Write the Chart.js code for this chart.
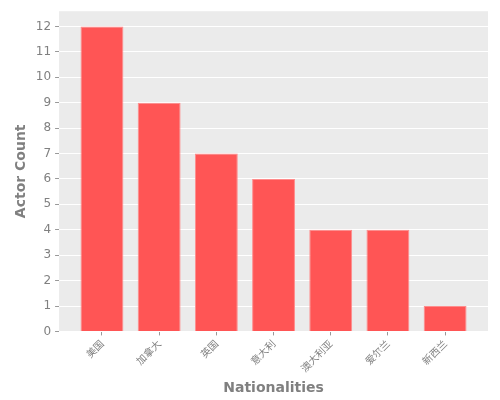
<!DOCTYPE html>
<html><head><meta charset="utf-8">
<script src="https://cdn.jsdelivr.net/npm/chart.js@4/dist/chart.umd.min.js"></script>
<style>html,body{margin:0;padding:0;background:#fff}#w{width:500px;height:400px}</style>
</head><body><div id="w"><canvas id="c"></canvas></div>
<script>
const categories = ['美国','加拿大','英国','意大利','澳大利亚','爱尔兰','新西兰'];
const actorCounts = [12, 9, 7, 6, 4, 4, 1];
const yTicks = [0,1,2,3,4,5,6,7,8,9,10,11,12];

const bgPlugin = {
  id: 'bg',
  beforeDraw(chart) {
    const {ctx, chartArea: a} = chart;
    ctx.save();
    ctx.fillStyle = '#EBEBEB';
    ctx.fillRect(a.left, a.top, a.right - a.left, a.bottom - a.top);
    ctx.restore();
  }
};

const points = categories.map((c, i) => ({x: i, y: actorCounts[i]}));
const gray = '#808080';
const font = 'DejaVu Sans';

new Chart(document.getElementById('c'), {
  type: 'bar',
  data: { datasets: [{
    data: points,
    backgroundColor: '#FF5555',
    borderColor: '#FF8C8C',
    borderWidth: 1,
    barPercentage: 0.75,
    categoryPercentage: 1
  }]},
  options: {
    responsive: true, maintainAspectRatio: false, animation: false,
    layout: { padding: { top: 10, right: 12, left: 9, bottom: 3 } },
    plugins: { legend: { display: false }, tooltip: { enabled: false } },
    scales: {
      x: {
        type: 'linear', min: -0.75, max: 6.75, offset: false,
        afterBuildTicks: s => { s.ticks = categories.map((c, i) => ({value: i})); },
        grid: { drawOnChartArea: false, offset: false, tickLength: 4, tickColor: '#999', drawTicks: true },
        border: { display: false },
        ticks: { callback: v => categories[v], maxRotation: 45, minRotation: 45, color: gray, font: { family: "'Noto Sans CJK SC', " + font, size: 10 }, padding: 2 },
        title: { display: true, text: 'Nationalities', color: gray, font: { family: font, size: 14, weight: 'bold' }, padding: { top: 4, bottom: 0 } }
      },
      y: {
        min: 0, max: 12.6,
        afterBuildTicks: s => { s.ticks = yTicks.map(v => ({value: v})); },
        grid: { color: '#FFFFFF', lineWidth: 1, tickLength: 4, tickColor: '#999' },
        border: { display: false },
        ticks: { color: gray, font: { family: font, size: 12 }, padding: 4 },
        title: { display: true, text: 'Actor Count', color: gray, font: { family: font, size: 14, weight: 'bold' }, padding: { bottom: 2 } }
      }
    }
  },
  plugins: [bgPlugin]
});
</script></body></html>
